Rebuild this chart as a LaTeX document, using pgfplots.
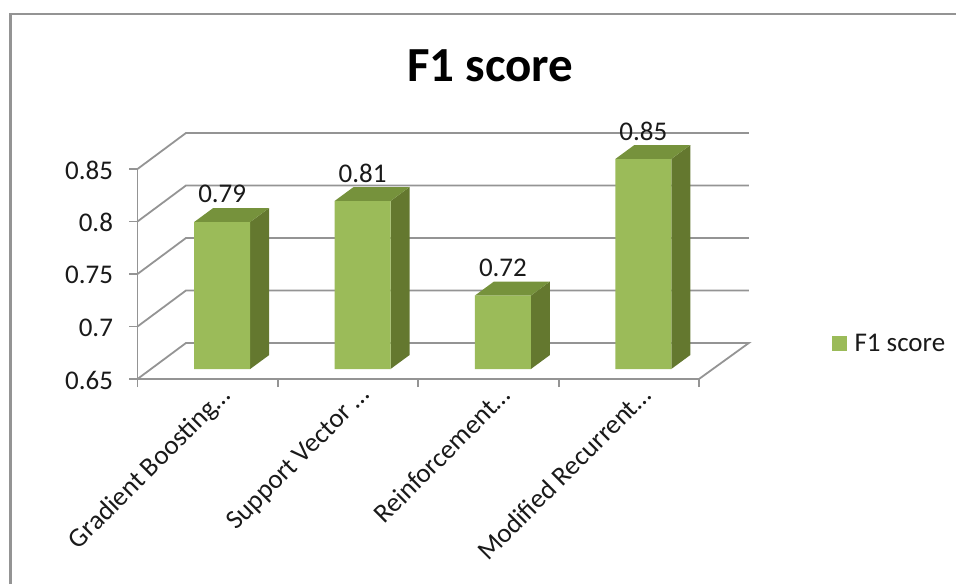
\documentclass[border=0pt]{standalone}
\usepackage{fontspec}
\setmainfont{Carlito}
\usepackage{pgfplots}
\pgfplotsset{compat=1.18}
\definecolor{gridgrey}{HTML}{949494}
\definecolor{barfront}{HTML}{9BBB59}
\definecolor{barside}{HTML}{64782F}
\definecolor{bartop}{HTML}{76923C}
\definecolor{inktext}{HTML}{1A1A1A}
\newcommand{\chartfont}{\fontsize{27}{32}\selectfont}
\pgfplotsset{
  gridrun/.style={forget plot, no markers, sharp plot, draw=gridgrey, line width=1.8pt, line join=miter},
  barface/.style={forget plot, no markers, draw=none, xshift=14.5pt, yshift=10pt},
}
\begin{document}
\begin{tikzpicture}[x=1pt,y=1pt]
\useasboundingbox (0,0) rectangle (956,584);
% outer chart frame, open towards the right and bottom
\draw[gridgrey, line width=2.8pt] (10.5,0) -- (10.5,570) -- (956,570);
\begin{axis}[
  at={(137.5pt,205pt)}, anchor=south west,
  scale only axis, width=561.5pt, height=210pt,
  xmin=-0.5, xmax=3.5, ymin=0.65, ymax=0.85,
  clip=false,
  axis x line*=bottom, axis y line*=left,
  axis line style={draw=gridgrey, line width=1.8pt, -},
  tick align=outside, major tick length=8pt,
  tick style={draw=gridgrey, line width=1.8pt},
  xtick={-0.5,0.5,1.5,2.5,3.5},
  xticklabels={Gradient Boosting…,Support Vector …,Reinforcement…,Modified Recurrent…,{}},
  ytick={0.65,0.7,0.75,0.8,0.85},
  /pgf/number format/.cd, fixed, precision=2, assume math mode=true,
  /pgfplots/.cd,
  tick label style={font=\chartfont, text=inktext},
  xticklabel style={rotate=45, anchor=north east, xshift=62.5pt, yshift=-51.5pt},
  yticklabel style={xshift=-13pt, yshift=-1pt},
  title={F1 score},
  title style={at={(0.628,1.465)}, anchor=center, font=\fontsize{49}{53}\bfseries\selectfont, text=black},
  legend style={at={(1.2285,0.167)}, anchor=west, draw=none, fill=none,
    font=\chartfont, text=inktext, inner sep=4pt},
  legend cell align=left,
]
% floor and back wall
\addplot[gridrun] coordinates {(-0.5,0.65) (-0.1546,0.6843) (3.855,0.6843) (3.5,0.65)};
\addplot[gridrun] coordinates {(-0.5,0.70) (-0.1546,0.7343) (3.855,0.7343)};
\addplot[gridrun] coordinates {(-0.5,0.75) (-0.1546,0.7843) (3.855,0.7843)};
\addplot[gridrun] coordinates {(-0.5,0.80) (-0.1546,0.8343) (3.855,0.8343)};
\addplot[gridrun] coordinates {(-0.5,0.85) (-0.1546,0.8843) (3.855,0.8843)};
% side faces of the bars
\addplot[barface, fill=barside] coordinates {(0.1994,0.65) (0.3347,0.6633) (0.3347,0.8033) (0.1994,0.79)} \closedcycle;
\addplot[barface, fill=barside] coordinates {(1.1994,0.65) (1.3347,0.6633) (1.3347,0.8233) (1.1994,0.81)} \closedcycle;
\addplot[barface, fill=barside] coordinates {(2.1994,0.65) (2.3347,0.6633) (2.3347,0.7333) (2.1994,0.72)} \closedcycle;
\addplot[barface, fill=barside] coordinates {(3.1994,0.65) (3.3347,0.6633) (3.3347,0.8633) (3.1994,0.85)} \closedcycle;
% top faces of the bars
\addplot[barface, fill=bartop] coordinates {(-0.1994,0.79) (0.1994,0.79) (0.3347,0.8033) (-0.0641,0.8033)} -- cycle;
\addplot[barface, fill=bartop] coordinates {(0.8006,0.81) (1.1994,0.81) (1.3347,0.8233) (0.9359,0.8233)} -- cycle;
\addplot[barface, fill=bartop] coordinates {(1.8006,0.72) (2.1994,0.72) (2.3347,0.7333) (1.9359,0.7333)} -- cycle;
\addplot[barface, fill=bartop] coordinates {(2.8006,0.85) (3.1994,0.85) (3.3347,0.8633) (2.9359,0.8633)} -- cycle;
% front faces, value labels and the legend key
\addplot[ybar, bar width=56pt, draw=none, fill=barfront, xshift=14.5pt, yshift=10pt,
  nodes near coords,
  every node near coord/.append style={font=\chartfont, text=inktext, anchor=center, yshift=28pt, xshift=0pt},
  legend image code/.code={\fill[barfront] (0pt,-17.5pt) rectangle (15pt,-2.5pt); \path (21pt,0pt);},
] coordinates {(0,0.79) (1,0.81) (2,0.72) (3,0.85)};
\addlegendentry{F1 score}
\end{axis}
\end{tikzpicture}
\end{document}
